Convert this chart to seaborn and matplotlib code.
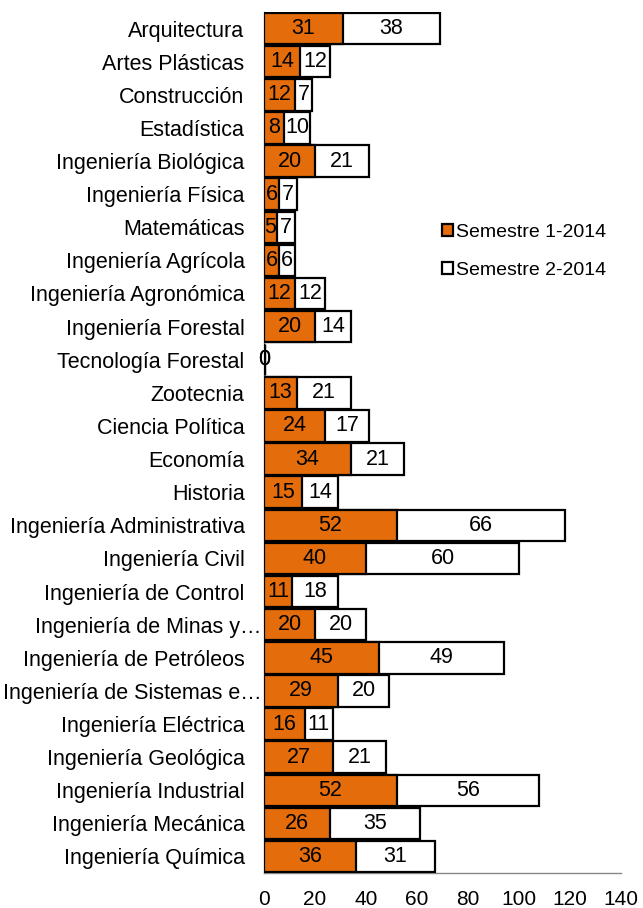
import seaborn as sns
import matplotlib.pyplot as plt
import pandas as pd

# Datos
carreras = ["Arquitectura", "Artes Plásticas", "Construcción", "Estadística",
            "Ingeniería Biológica", "Ingeniería Física", "Matemáticas",
            "Ingeniería Agrícola", "Ingeniería Agronómica", "Ingeniería Forestal",
            "Tecnología Forestal", "Zootecnia", "Ciencia Política", "Economía",
            "Historia", "Ingeniería Administrativa", "Ingeniería Civil",
            "Ingeniería de Control", "Ingeniería de Minas y…",
            "Ingeniería de Petróleos", "Ingeniería de Sistemas e…",
            "Ingeniería Eléctrica", "Ingeniería Geológica", "Ingeniería Industrial",
            "Ingeniería Mecánica", "Ingeniería Química"]
sem1 = [31, 14, 12, 8, 20, 6, 5, 6, 12, 20, 0, 13, 24, 34, 15, 52, 40, 11, 20,
        45, 29, 16, 27, 52, 26, 36]
sem2 = [38, 12, 7, 10, 21, 7, 7, 6, 12, 14, 0, 21, 17, 21, 14, 66, 60, 18, 20,
        49, 20, 11, 21, 56, 35, 31]
series = ["Semestre 1-2014", "Semestre 2-2014"]

df = pd.DataFrame({"carrera": carreras, "s1": sem1, "s2": sem2})
df["total"] = df["s1"] + df["s2"]

sns.set_style("white")
plt.rcParams["font.family"] = ["Liberation Sans", "DejaVu Sans"]
plt.rcParams["text.color"] = "black"
plt.rcParams["xtick.color"] = "black"
plt.rcParams["ytick.color"] = "black"

naranja = "#E46C0A"
gris = "#868686"
fs = 15.5
ancho = 0.95

fig = plt.figure(figsize=(6.43, 9.08), dpi=100)
ax = fig.add_axes([0.4106, 0.0385, 0.5552, 0.9483])

# barra total (blanca) y encima semestre 1 (naranja)
sns.barplot(data=df, x="total", y="carrera", orient="h", color="white",
            edgecolor="black", linewidth=1.6, width=ancho, ax=ax, label=series[1])
sns.barplot(data=df, x="s1", y="carrera", orient="h", color=naranja,
            saturation=1, edgecolor="black", linewidth=1.6, width=ancho, ax=ax,
            label=series[0])
for p in ax.patches:
    p.set_zorder(3)

# filas sin datos: solo queda el borde en x=0
for i, t in enumerate(df["total"]):
    if t == 0:
        ax.vlines(0, i - ancho / 2, i + ancho / 2, color="black", linewidth=2.5, zorder=3)

# etiquetas
ax.bar_label(ax.containers[1], labels=[str(v) for v in sem1],
             label_type="center", fontsize=fs, zorder=4)
for i, (a, b) in enumerate(zip(sem1, sem2)):
    ax.text(a + b / 2, i, str(b), ha="center", va="center", fontsize=fs, zorder=4)

ax.set_xlim(0, 140)
ax.set_ylim(len(carreras) - 0.5, -0.5)
ax.set_xticks(range(0, 141, 20))
ax.set_xlabel("")
ax.set_ylabel("")

ax.set_yticks([i + 0.5 for i in range(-1, len(carreras))], minor=True)
ax.tick_params(axis="y", which="major", length=0, labelsize=fs, pad=14)
ax.tick_params(axis="y", which="minor", length=5, color=gris, width=1)
ax.tick_params(axis="x", length=5, color=gris, width=1, labelsize=15, pad=7)

# etiquetas truncadas: el "…" sobresale hacia la derecha
etiquetas = []
for i, c in enumerate(carreras):
    if c.endswith("…"):
        etiquetas.append("")
        ax.annotate(c, xy=(0, i), xycoords=("axes fraction", "data"),
                    xytext=(-2, 0), textcoords="offset points",
                    ha="right", va="center_baseline", fontsize=fs)
    else:
        etiquetas.append(c)
ax.set_yticks(range(len(carreras)))
ax.set_yticklabels(etiquetas)

sns.despine(ax=ax, top=True, right=True)
for s in ["left", "bottom"]:
    ax.spines[s].set_color(gris)
    ax.spines[s].set_linewidth(1)
    ax.spines[s].set_zorder(2)

handles, labels = ax.get_legend_handles_labels()
order = [labels.index(series[0]), labels.index(series[1])]
ax.legend([handles[i] for i in order], [labels[i] for i in order],
          loc="center left", bbox_to_anchor=(0.45, 0.722), frameon=False,
          fontsize=14, handlelength=0.55, handleheight=0.55, handletextpad=0.15,
          labelspacing=1.1)

fig.savefig("out.png", dpi=100)
